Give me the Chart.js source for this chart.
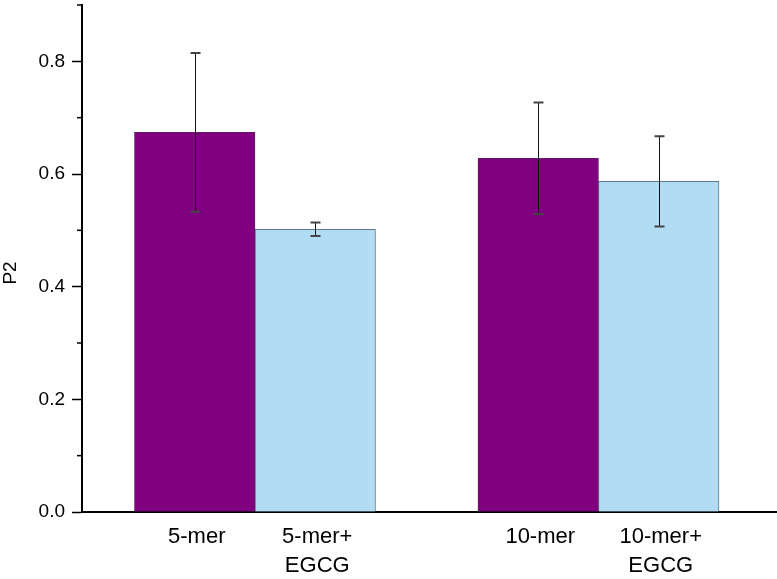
<!DOCTYPE html>
<html><head><meta charset="utf-8">
<script src="https://cdn.jsdelivr.net/npm/chart.js@4"></script>
<style>html,body{margin:0;padding:0;background:#fff;}</style>
</head><body>
<canvas id="c" width="777" height="579"></canvas>
<script>
// ---- data ----
const groups = ['5-mer', '10-mer'];
const groupPos = [1, 2];
const xRange = [0.4964, 2.5197];
const seriesNames = ['without EGCG', 'with EGCG'];
const labelsPlain = [['5-mer'], ['10-mer']];
const labelsEGCG = [['5-mer+', 'EGCG'], ['10-mer+', 'EGCG']];
const valuesPlain = [0.674, 0.628];
const valuesEGCG = [0.502, 0.587];
const errPlain = [0.141, 0.099];
const errEGCG = [0.012, 0.080];
const yTicks = [0, 0.2, 0.4, 0.6, 0.8];
const yMinorTicks = [0.1, 0.3, 0.5, 0.7, 0.9];
const yRange = [0, 0.9];
const yTitle = 'P2';

const FONT = "'Liberation Sans', Arial, sans-serif";

const allLabels = [labelsPlain, labelsEGCG];
const allErr = [errPlain, errEGCG];
const allVals = [valuesPlain, valuesEGCG];

const extras = {
  id: 'extras',
  afterDatasetsDraw(chart) {
    const ctx = chart.ctx;
    const y = chart.scales.y;
    ctx.save();
    chart.data.datasets.forEach((ds, i) => {
      const meta = chart.getDatasetMeta(i);
      meta.data.forEach((el, j) => {
        const v = allVals[i][j], e = allErr[i][j];
        const x = Math.round(el.x) + 0.5;
        const yt = y.getPixelForValue(v + e);
        const yb = y.getPixelForValue(v - e);
        ctx.strokeStyle = '#111';
        ctx.lineWidth = 1;
        ctx.beginPath(); ctx.moveTo(x, yt); ctx.lineTo(x, yb); ctx.stroke();
        ctx.strokeStyle = '#444';
        ctx.lineWidth = 2;
        ctx.beginPath();
        ctx.moveTo(x - 5, yt); ctx.lineTo(x + 5, yt);
        ctx.moveTo(x - 5, yb); ctx.lineTo(x + 5, yb);
        ctx.stroke();
      });
    });
    ctx.restore();
  },
  afterDraw(chart) {
    const ctx = chart.ctx;
    const y = chart.scales.y;
    const left = chart.chartArea.left;
    ctx.save();
    // minor ticks
    ctx.strokeStyle = '#000';
    ctx.lineWidth = 1.5;
    yMinorTicks.forEach(v => {
      const py = y.getPixelForValue(v);
      ctx.beginPath(); ctx.moveTo(left - 5, py); ctx.lineTo(left, py); ctx.stroke();
    });
    // bar labels
    ctx.fillStyle = '#000';
    ctx.font = '22px ' + FONT;
    ctx.textAlign = 'center';
    ctx.textBaseline = 'middle';
    chart.data.datasets.forEach((ds, i) => {
      const meta = chart.getDatasetMeta(i);
      meta.data.forEach((el, j) => {
        allLabels[i][j].forEach((line, k) => {
          ctx.fillText(line, el.x + 2, 537 + k * 29);
        });
      });
    });
    // y title
    ctx.font = '19px ' + FONT;
    ctx.translate(11, 273);
    ctx.rotate(-Math.PI / 2);
    ctx.fillText(yTitle, 0, 0);
    ctx.restore();
  }
};

new Chart(document.getElementById('c'), {
  type: 'bar',
  data: {
    datasets: [
      {
        label: seriesNames[0],
        data: groupPos.map((p, j) => ({ x: p, y: valuesPlain[j] })),
        backgroundColor: '#800080',
        borderColor: '#5e1a5e',
        borderWidth: 1,
        barThickness: 120.5
      },
      {
        label: seriesNames[1],
        data: groupPos.map((p, j) => ({ x: p, y: valuesEGCG[j] })),
        backgroundColor: '#b2dcf4',
        borderColor: '#5b7888',
        borderWidth: 1,
        barThickness: 120.5
      }
    ]
  },
  options: {
    responsive: false,
    animation: false,
    devicePixelRatio: 1,
    layout: { padding: { top: 5, left: 0, right: 0, bottom: 0 } },
    plugins: { legend: { display: false }, tooltip: { enabled: false } },
    scales: {
      x: {
        type: 'linear',
        min: xRange[0], max: xRange[1],
        offset: false,
        grid: { display: false, drawTicks: false },
        ticks: { display: false },
        border: { color: '#000', width: 2 },
        afterFit(s) { s.height = 67; s.paddingLeft = 0; s.paddingRight = 0; }
      },
      y: {
        min: yRange[0], max: yRange[1],
        afterBuildTicks(s) { s.ticks = yTicks.map(v => ({ value: v })); },
        ticks: {
          color: '#000',
          font: { family: FONT, size: 19 },
          padding: 7,
          callback: v => Number(v).toFixed(1)
        },
        grid: { drawOnChartArea: false, tickLength: 10, tickColor: '#000', tickWidth: 1.5 },
        border: { color: '#000', width: 2 },
        afterFit(s) { s.width = 82; s.paddingTop = 0; s.paddingBottom = 0; }
      }
    }
  },
  plugins: [extras]
});
</script>
</body></html>
